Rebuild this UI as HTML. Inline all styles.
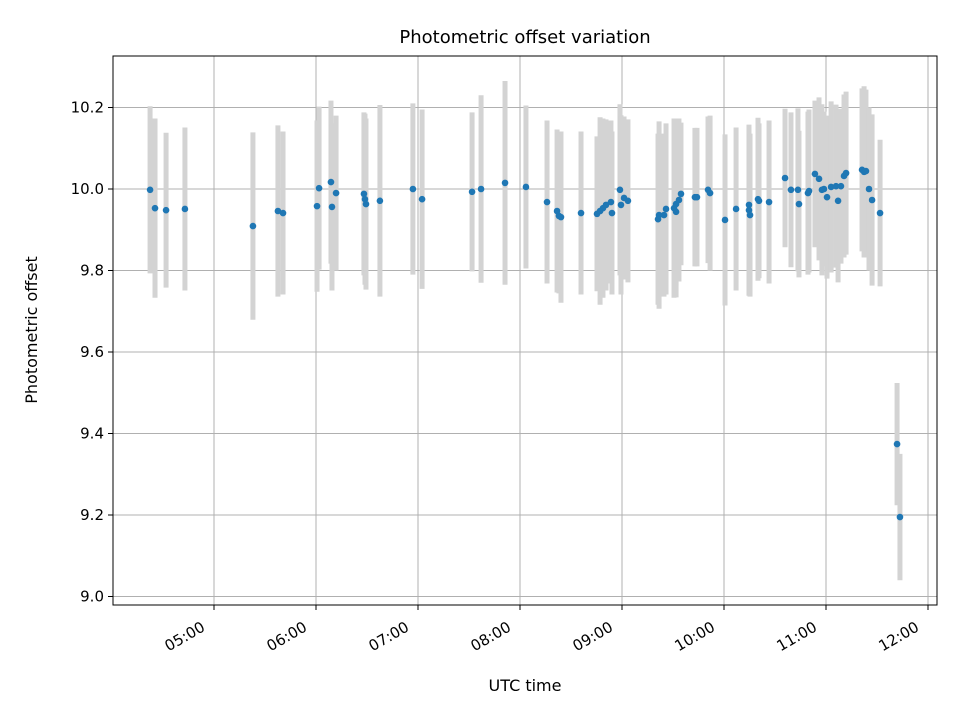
<!DOCTYPE html>
<html><head><meta charset="utf-8"><style>body{margin:0;background:#fff}text{font-family:"DejaVu Sans","Liberation Sans",sans-serif;fill:#000}</style></head>
<body>
<svg id="chart" width="960" height="720" xmlns="http://www.w3.org/2000/svg">
<rect width="960" height="720" fill="#fff"/>
<g id="grid"></g>
<g id="errs"></g>
<g id="pts"></g>
<rect x="113" y="56" width="824" height="549" fill="none" stroke="#000" stroke-width="1"/>
<g id="xt"></g>
<g id="yt"></g>
<text x="525" y="43" font-size="18" text-anchor="middle">Photometric offset variation</text>
<text x="525" y="691" font-size="16" text-anchor="middle">UTC time</text>
<text x="37" y="330" font-size="16" text-anchor="middle" transform="rotate(-90 37 330)">Photometric offset</text>
</svg>
<script>
const timesMin=[262.4,265.3,271.8,282.9,322.9,337.6,340.6,361.8,360.6,368.8,369.4,371.8,388.2,388.8,389.4,397.6,417,422.4,451.8,457.1,471.2,483.5,495.9,501.8,504.1,502.9,515.9,525.3,527.1,528.8,530.6,533.5,534.1,538.8,539.4,541.2,543.5,561.2,561.8,564.7,565.9,570.6,571.8,571.8,573.5,574.7,582.9,584.1,590.6,591.8,600.6,607.1,614.7,614.7,615.3,620,620.6,626.5,635.9,639.4,643.5,644.1,649.4,650,653.5,655.9,657.6,658.8,660.6,663,665.9,667.1,668.8,670.6,671.8,681.2,682.4,683.5,685.3,687.1,691.8,701.8,703.5];
const offsets=[9.998,9.953,9.948,9.951,9.909,9.946,9.941,10.002,9.958,10.017,9.956,9.990,9.988,9.975,9.963,9.971,10.0,9.975,9.993,10.0,10.015,10.005,9.968,9.946,9.931,9.934,9.941,9.939,9.946,9.953,9.961,9.968,9.941,9.998,9.961,9.978,9.971,9.926,9.936,9.936,9.951,9.953,9.963,9.944,9.973,9.988,9.980,9.980,9.998,9.990,9.924,9.951,9.961,9.948,9.936,9.975,9.971,9.968,10.027,9.998,9.998,9.963,9.990,9.995,10.037,10.025,9.998,10.0,9.980,10.005,10.007,9.971,10.007,10.032,10.039,10.047,10.042,10.044,10.0,9.973,9.941,9.374,9.195];
const errors=[0.205,0.22,0.19,0.2,0.23,0.21,0.2,0.2,0.21,0.2,0.205,0.19,0.2,0.21,0.21,0.235,0.21,0.22,0.195,0.23,0.25,0.2,0.2,0.2,0.21,0.19,0.2,0.19,0.23,0.22,0.21,0.2,0.2,0.21,0.22,0.2,0.2,0.21,0.23,0.2,0.21,0.22,0.2,0.21,0.2,0.175,0.17,0.17,0.18,0.19,0.21,0.2,0.19,0.21,0.2,0.2,0.19,0.2,0.17,0.19,0.2,0.18,0.2,0.2,0.18,0.2,0.21,0.19,0.2,0.21,0.2,0.2,0.19,0.2,0.2,0.2,0.21,0.2,0.2,0.21,0.18,0.15,0.155];
const yTicks=[9.0,9.2,9.4,9.6,9.8,10.0,10.2];
const xTicksMin=[300,360,420,480,540,600,660,720];
const xTickLabels=["05:00","06:00","07:00","08:00","09:00","10:00","11:00","12:00"];
const NS="http://www.w3.org/2000/svg";
const xs=m=>214+(m-300)/60*102;
const ys=v=>189-(v-10)*407.5;
function mk(tag,attrs,parent){const e=document.createElementNS(NS,tag);for(const k in attrs)e.setAttribute(k,attrs[k]);parent.appendChild(e);return e;}
const grid=document.getElementById('grid'),errs=document.getElementById('errs'),pts=document.getElementById('pts'),xt=document.getElementById('xt'),yt=document.getElementById('yt');
yTicks.forEach(v=>{const y=ys(v);
const g=mk('line',{x1:113,x2:937,y1:y,y2:y,stroke:'#b0b0b0','stroke-width':1},grid);


const t=mk('line',{x1:108,x2:113,y1:y,y2:y,stroke:'#000'},yt);


const l=mk('text',{x:104,y:y+5,'font-size':15,'text-anchor':'end'},yt);l.textContent=v.toFixed(1);

});
xTicksMin.forEach((m,i)=>{const x=xs(m);
const g=mk('line',{x1:x,x2:x,y1:56,y2:605,stroke:'#b0b0b0','stroke-width':1},grid);


const t=mk('line',{x1:x,x2:x,y1:605,y2:610,stroke:'#000'},xt);


const lx=x-8,ly=630;
const l=mk('text',{x:lx,y:ly,'font-size':15,'text-anchor':'end',transform:`rotate(-30 ${lx} ${ly})`},xt);l.textContent=xTickLabels[i];

});
timesMin.forEach((m,i)=>{const x=xs(m);
const e=mk('line',{x1:x,x2:x,y1:ys(offsets[i]+errors[i]),y2:ys(offsets[i]-errors[i]),stroke:'#d3d3d3','stroke-width':5},errs);


const c=mk('circle',{cx:x,cy:ys(offsets[i]),r:3.3,fill:'#1f77b4'},pts);

});
</script>
</body></html>
